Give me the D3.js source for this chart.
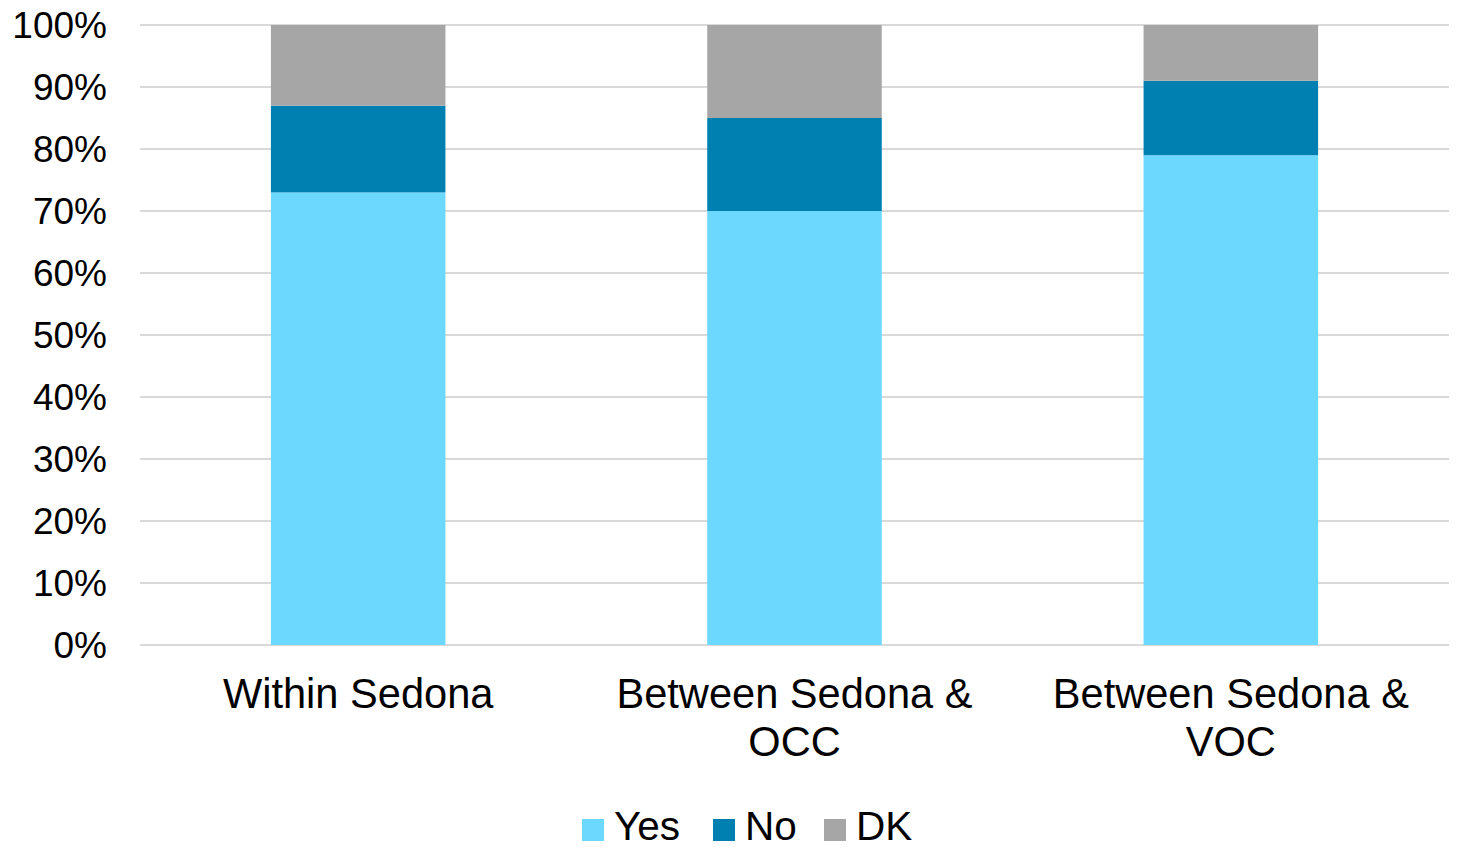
<!DOCTYPE html>
<html>
<head>
<meta charset="utf-8">
<script src="https://cdn.jsdelivr.net/npm/d3@7"></script>
<style>
html,body{margin:0;padding:0;background:#fff;}
svg{display:block;font-family:"Liberation Sans",Arial,sans-serif;}
</style>
</head>
<body>
<svg id="chart" width="1460" height="851"></svg>
<script>
const categories = [["Within Sedona"], ["Between Sedona &", "OCC"], ["Between Sedona &", "VOC"]];
const seriesNames = ["Yes", "No", "DK"];
const yesValues = [73, 70, 79];
const noValues = [14, 15, 12];
const dkValues = [13, 15, 9];
const yTicks = [0, 10, 20, 30, 40, 50, 60, 70, 80, 90, 100];
const colors = ["#6DD8FE", "#0080B0", "#A6A6A6"];

(function () {
const svg = d3.select("#chart");
const plotLeft = 140, plotRight = 1449, plotTop = 25, plotBottom = 645;

const keys = categories.map((c, i) => "c" + i);
const rows = keys.map((k, i) => ({key: k, Yes: yesValues[i], No: noValues[i], DK: dkValues[i]}));
const stacked = d3.stack().keys(seriesNames)(rows);

const x = d3.scaleBand().domain(keys).range([plotLeft, plotRight]).paddingInner(0.6).paddingOuter(0.3);
const y = d3.scaleLinear().domain([0, 100]).range([plotBottom, plotTop]);

// gridlines
svg.append("g").selectAll("line").data(yTicks).join("line")
  .attr("x1", plotLeft).attr("x2", plotRight)
  .attr("y1", d => y(d)).attr("y2", d => y(d))
  .attr("stroke", "#D9D9D9").attr("stroke-width", 2.2);

// y tick labels
const yAxis = d3.axisLeft(y).tickValues(yTicks).tickFormat(d => d + "%").tickSize(0).tickPadding(0);
const ya = svg.append("g").attr("transform", "translate(107,0)").call(yAxis);
ya.select(".domain").remove();
ya.selectAll("text").attr("font-size", 37).attr("fill", "#000").attr("font-family", "Liberation Sans, Arial, sans-serif").attr("dy", "0.34em");

// bars
svg.append("g").selectAll("g").data(stacked).join("g")
  .attr("fill", (d, i) => colors[i])
  .selectAll("rect").data(d => d).join("rect")
  .attr("x", d => x(d.data.key))
  .attr("width", x.bandwidth())
  .attr("y", d => y(d[1]))
  .attr("height", d => y(d[0]) - y(d[1]));

// x labels
const xl = svg.append("g");
categories.forEach((lines, i) => {
  const cx = x(keys[i]) + x.bandwidth() / 2;
  const t = xl.append("text")
    .attr("x", cx)
    .attr("y", 708)
    .attr("text-anchor", "middle")
    .attr("font-size", 41.6)
    .attr("fill", "#000");
  lines.forEach((ln, j) => {
    t.append("tspan").attr("x", cx).attr("dy", j === 0 ? 0 : 48).text(ln);
  });
});

// legend
const legendX = [582, 713, 824];
const lg = svg.append("g");
seriesNames.forEach((s, i) => {
  lg.append("rect").attr("x", legendX[i]).attr("y", 819).attr("width", 22).attr("height", 22).attr("fill", colors[i]);
  lg.append("text").attr("x", legendX[i] + 32).attr("y", 840).attr("font-size", 40.5).attr("fill", "#000").text(s);
});
})();
</script>
</body>
</html>
